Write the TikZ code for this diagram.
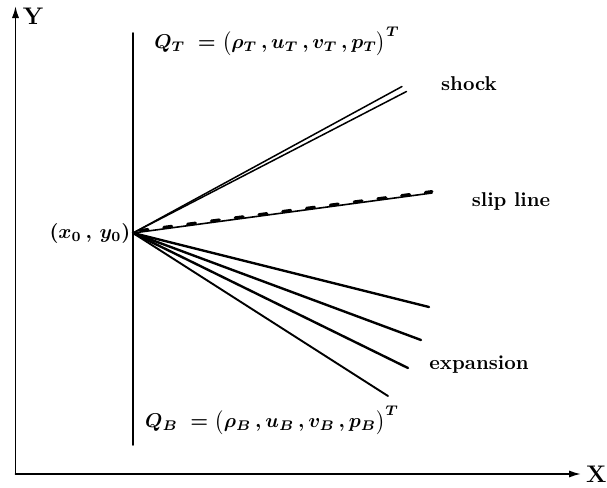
\documentclass[tikz,border=0pt]{standalone}
\usepackage{amsmath}
\usetikzlibrary{arrows.meta}
\begin{document}
\begin{tikzpicture}[x=0.5pt,y=-0.5pt,line cap=round,
  lbl/.style={font=\bfseries, inner sep=0pt},
  mlbl/.style={font=\normalsize\boldmath, inner sep=0pt},
  axis/.style={line width=0.9pt,-{Latex[length=6pt,width=3.6pt]}},
  ray/.style={line width=1.2pt},
  thinray/.style={line width=0.75pt}]
\useasboundingbox (0,0) rectangle (607,488);
% axes
\coordinate (O) at (15.5,474);
\coordinate (Ytip) at (15.5,6);
\coordinate (Xtip) at (581,474);
\draw[axis] (O) -- (Ytip);
\draw[axis] (O) -- (Xtip);
\node[lbl, font=\bfseries\large] (Ylab) at (33,16) {Y};
\node[lbl, font=\bfseries\large, anchor=east] (Xlab) at (607,474) {X};
% vertical line
\coordinate (Vtop) at (133,33);
\coordinate (Vbot) at (133,445);
\draw[line width=0.9pt] (Vtop) -- (Vbot);
% origin
\coordinate (P) at (133,233);
\node[mlbl] (plab) at (90,233) {$(x_0\,,\,y_0)$};
% shock (double line)
\coordinate (S1) at (402,86.5);
\coordinate (S2) at (406.5,91.5);
\draw[thinray] (P) -- (S1);
\draw[thinray] (P) -- (S2);
\node[lbl] (shock) at (469,84) {shock};
% slip line
\coordinate (L) at (432,193);
\coordinate (Pd) at (140,230.5);
\coordinate (Ld) at (432,191.5);
\draw[line width=0.8pt] (P) -- (L);
\draw[line width=1.5pt, dash pattern=on 4pt off 8pt] (Pd) -- (Ld);
\node[lbl] (slip) at (511,201) {slip line};
% expansion fan
\coordinate (E1) at (429,307);
\coordinate (E2) at (421,340);
\coordinate (E3) at (408,368);
\coordinate (E4) at (388,396);
\draw[ray] (P) -- (E1);
\draw[ray] (P) -- (E2);
\draw[ray] (P) -- (E3);
\draw[thinray, line width=0.95pt] (P) -- (E4);
\node[lbl] (exp) at (479,365) {expansion};
% states
\node[mlbl] (QT) at (277,41) {$Q_T\;=\big(\rho_T\,,u_T\,,v_T\,,p_T\big)^T$};
\node[mlbl] (QB) at (272,420) {$Q_B\;=\big(\rho_B\,,u_B\,,v_B\,,p_B\big)^T$};
\end{tikzpicture}
\end{document}
